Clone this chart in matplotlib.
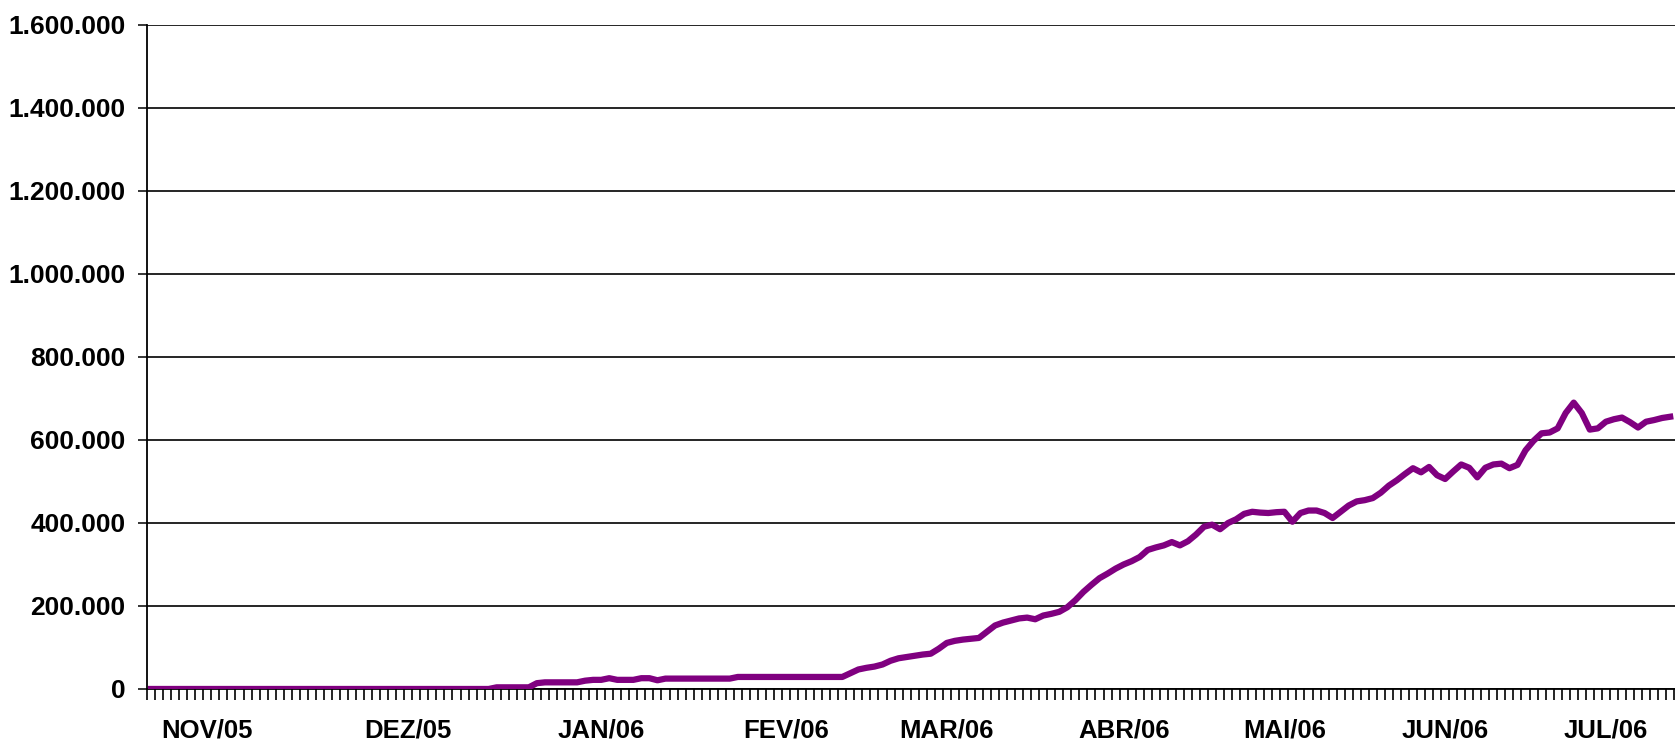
import matplotlib
matplotlib.use('Agg')
import matplotlib.pyplot as plt
from matplotlib.ticker import FuncFormatter, FixedLocator

# valores diarios
valores = [
    0, 0, 0, 0, 0, 0, 0, 0, 0, 0,
    0, 0, 0, 0, 0, 0, 0, 0, 0, 0,
    0, 0, 0, 0, 0, 0, 0, 0, 0, 0,
    0, 0, 0, 0, 0, 0, 0, 0, 0, 0,
    0, 0, 0, 4000, 4000, 4000, 4000, 4000, 14000, 16000,
    16000, 16000, 16000, 16000, 20000, 22000, 22000, 26000, 22000, 22000,
    22000, 26000, 26000, 21000, 25000, 25000, 25000, 25000, 25000, 25000,
    25000, 25000, 25000, 29000, 29000, 29000, 29000, 29000, 29000, 29000,
    29000, 29000, 29000, 29000, 29000, 29000, 29000, 38000, 47000, 51000,
    54000, 59000, 68000, 74000, 77000, 80000, 83000, 85000, 97000, 111000,
    116000, 119000, 121000, 123000, 138000, 153000, 160000, 165000, 170000, 172000,
    168000, 177000, 181000, 186000, 197000, 214000, 234000, 251000, 267000, 278000,
    290000, 300000, 308000, 318000, 335000, 341000, 346000, 354000, 346000, 356000,
    372000, 391000, 396000, 385000, 400000, 409000, 422000, 427000, 425000, 424000,
    426000, 427000, 403000, 424000, 430000, 430000, 424000, 412000, 427000, 442000,
    452000, 455000, 460000, 473000, 490000, 503000, 518000, 532000, 522000, 535000,
    515000, 506000, 524000, 541000, 533000, 510000, 533000, 541000, 543000, 532000,
    540000, 575000, 598000, 616000, 618000, 628000, 665000, 690000, 665000, 625000,
    628000, 644000, 650000, 654000, 643000, 630000, 644000, 648000, 653000, 656000,
]
meses = ['NOV/05', 'DEZ/05', 'JAN/06', 'FEV/06', 'MAR/06', 'ABR/06', 'MAI/06', 'JUN/06', 'JUL/06']
mes_idx = [7, 32, 56, 79, 99, 121, 141, 161, 181]  # dia onde fica o rotulo do mes
y_ticks = [0, 200000, 400000, 600000, 800000, 1000000, 1200000, 1400000, 1600000]

plt.rcParams['font.family'] = ['Liberation Sans', 'DejaVu Sans']

n = len(valores)
fig = plt.figure(figsize=(16.75, 7.43), dpi=100)
ax = fig.add_axes([0.0878, 0.0727, 0.9122, 0.8937])

ax.plot(range(n), valores, color='#800080', lw=4.5, solid_joinstyle='round', zorder=3)

ax.set_ylim(0, 1600000)
ax.set_xlim(-0.5, n - 0.4)

# grade horizontal
ax.set_yticks(y_ticks)
ax.yaxis.set_major_formatter(FuncFormatter(lambda v, p: f'{v:,.0f}'.replace(',', '.')))
ax.grid(True, axis='y', color='black', lw=1.2)
ax.set_axisbelow(True)

# um tracinho por dia, rotulo por mes
ax.xaxis.set_minor_locator(FixedLocator([k - 0.5 for k in range(n + 1)]))
ax.xaxis.set_major_locator(FixedLocator(mes_idx))
ax.set_xticklabels(meses)
ax.tick_params(axis='x', which='minor', length=8, width=1.2, color='black', direction='out')
ax.tick_params(axis='x', which='major', length=0, pad=21)
ax.tick_params(axis='y', length=6.5, width=1.1, pad=9)
for lab in ax.get_yticklabels():
    lab.set_fontsize(19)
    lab.set_fontweight('bold')
for lab in ax.get_xticklabels():
    lab.set_fontsize(18.5)
    lab.set_fontweight('bold')

ax.spines['top'].set_visible(False)
ax.spines['right'].set_visible(False)
ax.spines['left'].set_linewidth(1.3)
ax.spines['bottom'].set_linewidth(1.3)

fig.savefig('out.png', dpi=100)
